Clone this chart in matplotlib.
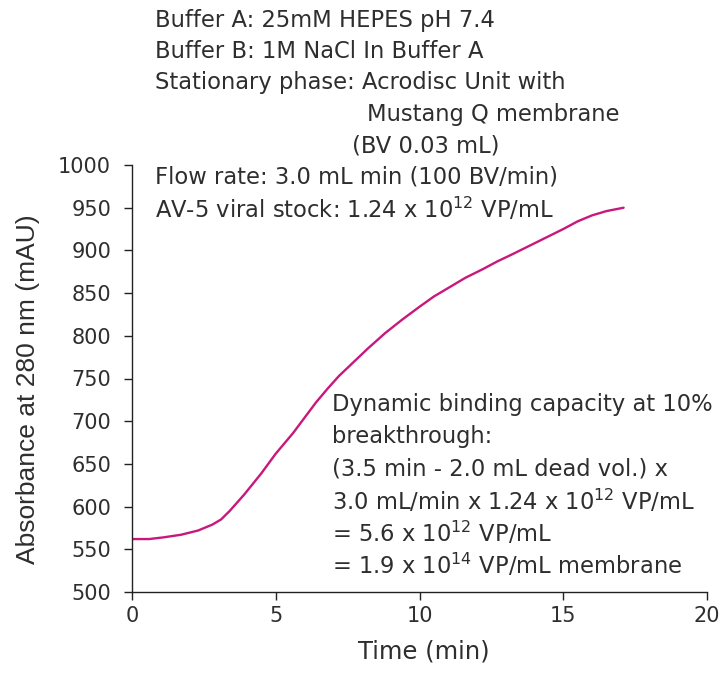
import matplotlib
matplotlib.use('Agg')
import matplotlib.pyplot as plt

# Breakthrough curve
time_min = [0, 0.6, 1.1, 1.7, 2.3, 2.8, 3.1, 3.4, 3.9, 4.5, 5.0, 5.6, 6.0, 6.4,
            6.8, 7.2, 7.7, 8.2, 8.8, 9.4, 10.0, 10.5, 11.1, 11.6, 12.2, 12.7,
            13.2, 13.8, 14.4, 15.0, 15.5, 16.0, 16.5, 17.1]
absorbance = [562, 562, 564, 567, 572, 579, 585, 595, 614, 639, 662, 686, 704, 722,
              738, 753, 769, 785, 803, 819, 834, 846, 858, 868, 878, 887,
              895, 905, 915, 925, 934, 941, 946, 950]

x_ticks = [0, 5, 10, 15, 20]
y_ticks = [500, 550, 600, 650, 700, 750, 800, 850, 900, 950, 1000]

top_notes = [
    ("Buffer A: 25mM HEPES pH 7.4", 155, 20),
    ("Buffer B: 1M NaCl In Buffer A", 155, 51.5),
    ("Stationary phase: Acrodisc Unit with", 155, 83),
    ("Mustang Q membrane", 367, 114.5),
    ("(BV 0.03 mL)", 352, 146),
    ("Flow rate: 3.0 mL min (100 BV/min)", 155, 177.5),
    ("AV-5 viral stock: 1.24 x 10$^{12}$ VP/mL", 155, 209),
]
dbc_notes = [
    "Dynamic binding capacity at 10%",
    "breakthrough:",
    "(3.5 min - 2.0 mL dead vol.) x",
    "3.0 mL/min x 1.24 x 10$^{12}$ VP/mL",
    "= 5.6 x 10$^{12}$ VP/mL",
    "= 1.9 x 10$^{14}$ VP/mL membrane",
]

plt.rcParams['font.family'] = ['DejaVu Sans']
plt.rcParams['mathtext.fontset'] = 'dejavusans'
plt.rcParams['mathtext.default'] = 'regular'
txt_color = '#2e2e2e'
fs = 16.3

W, H = 723, 675
fig = plt.figure(figsize=(W / 100, H / 100), dpi=100)
ax_w, ax_h = 707 - 132, 592 - 165
ax = fig.add_axes([132 / W, 1 - 592 / H, ax_w / W, ax_h / H])

ax.plot(time_min, absorbance, color='#c8187c', linewidth=1.7,
        solid_joinstyle='round', solid_capstyle='round')

ax.set_xlim(0, 20)
ax.set_ylim(500, 1000)
ax.set_xticks(x_ticks)
ax.set_yticks(y_ticks)
ax.spines['top'].set_visible(False)
ax.spines['right'].set_visible(False)
for s in ['left', 'bottom']:
    ax.spines[s].set_color('#222222')
    ax.spines[s].set_linewidth(1.0)
ax.tick_params(direction='out', length=6, width=1.0, color='#222222',
               labelsize=15, labelcolor=txt_color)
ax.tick_params(axis='y', pad=9)
ax.tick_params(axis='x', pad=4)
ax.set_xlabel('Time (min)', fontsize=17.5, color=txt_color)
ax.set_ylabel('Absorbance at 280 nm (mAU)', fontsize=19, color=txt_color,
              family=['Liberation Sans', 'DejaVu Sans'])
ax.xaxis.set_label_coords((424 - 132) / ax_w, -(652 - 592) / ax_h)
ax.xaxis.label.set_va('center')
ax.yaxis.set_label_coords(-(132 - 28) / ax_w, (592 - 389) / ax_h)
ax.yaxis.label.set_va('center')

for text, px, py in top_notes:
    fig.text(px / W, 1 - py / H, text, fontsize=fs, color=txt_color,
             ha='left', va='center')

for i, text in enumerate(dbc_notes):
    fig.text(332 / W, 1 - (405 + i * 32) / H, text, fontsize=fs,
             color=txt_color, ha='left', va='center')

fig.savefig('out.png', dpi=100)
